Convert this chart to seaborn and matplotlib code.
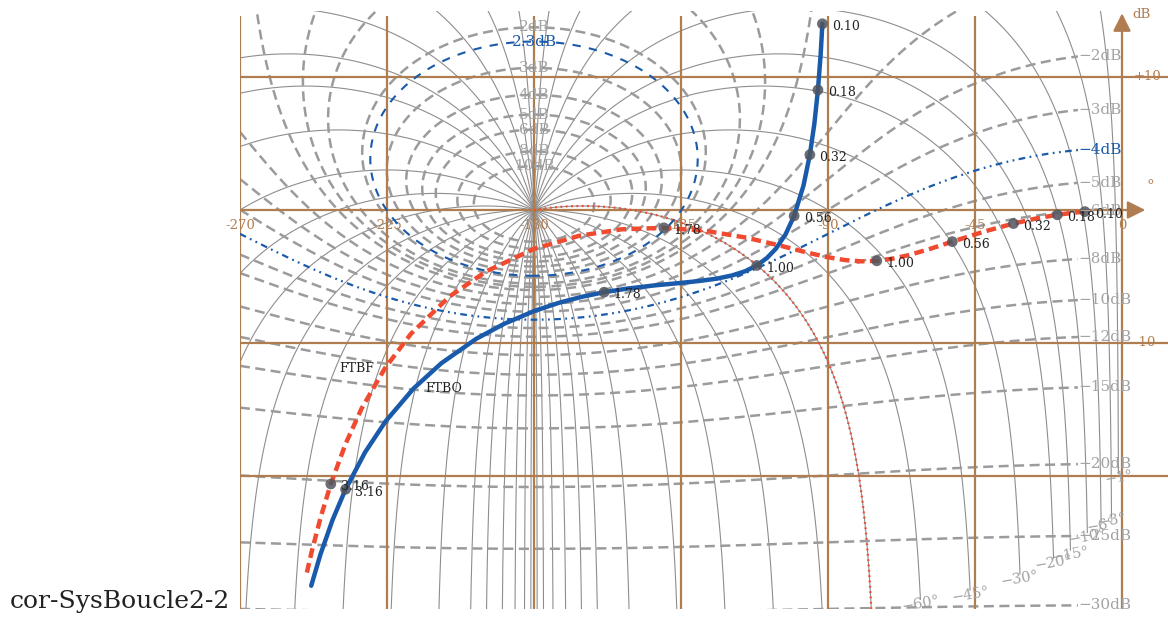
import numpy as np
import matplotlib
matplotlib.use("Agg")
import matplotlib.pyplot as plt
import seaborn as sns

# pulsations (rad/s) at which both loci are sampled
freq = [0.10, 0.13, 0.178, 0.24, 0.316, 0.42, 0.562, 0.68, 0.80, 0.90, 1.00, 1.10, 1.20,
        1.30, 1.40, 1.50, 1.60, 1.70, 1.778, 1.85, 1.92, 2.00, 2.10, 2.20, 2.35, 2.50,
        2.70, 2.90, 3.162, 3.40, 3.70, 4.00]

# open loop (FTBO): phase in degrees, gain in dB
ftbo_phase = [-91.72, -92.24, -93.08, -94.18, -95.55, -97.51, -100.37, -102.99, -105.95,
              -108.70, -111.80, -115.32, -119.36, -124.03, -129.47, -135.81, -143.13,
              -151.45, -158.54, -165.42, -172.25, -180.00, -189.24, -197.65, -208.36,
              -216.87, -225.44, -231.72, -237.68, -241.65, -245.38, -248.20]
ftbo_gain = [14.00, 11.73, 9.03, 6.48, 4.16, 1.83, -0.44, -1.83, -2.91, -3.61, -4.17,
             -4.60, -4.92, -5.16, -5.34, -5.50, -5.67, -5.91, -6.18, -6.53, -6.97, -7.60,
             -8.57, -9.68, -11.52, -13.42, -15.89, -18.22, -21.00, -23.29, -25.90, -28.25]

# closed loop (FTBF): phase in degrees, gain in dB
ftbf_phase = [-11.35, -14.66, -19.80, -26.11, -33.24, -41.92, -51.94, -59.01, -65.38,
              -70.30, -75.07, -79.88, -84.94, -90.53, -97.03, -104.93, -114.95, -127.88,
              -140.26, -153.11, -166.05, -180.00, -194.66, -205.89, -217.71, -225.64,
              -232.78, -237.68, -242.20, -245.21, -248.08, -249.61]
ftbf_gain = [-0.12, -0.20, -0.36, -0.63, -1.02, -1.60, -2.38, -2.94, -3.40, -3.66, -3.82,
             -3.86, -3.76, -3.53, -3.16, -2.66, -2.08, -1.55, -1.34, -1.45, -1.93, -2.92,
             -4.62, -6.51, -9.32, -11.90, -14.93, -17.58, -20.60, -23.02, -25.72, -27.35]

marker_freq = [0.10, 0.178, 0.316, 0.562, 1.00, 1.778, 3.162]
marker_labels = ["0.10", "0.18", "0.32", "0.56", "1.00", "1.78", "3.16"]
marker_index = [freq.index(f) for f in marker_freq]

BROWN = "#b07d50"
BLUE = "#1a5aaa"
RED = "#f04a30"
GREY = "#9b9b9b"
GREY_N = "#8e8e8e"
LGREY = "#a3a3a3"

sns.set_theme(style="white")
plt.rcParams["font.family"] = ["DejaVu Serif"]

fig = plt.figure(figsize=(11.68, 6.17), dpi=100)
ax = fig.add_axes([240 / 1168, 8 / 617, 928 / 1168, 598.5 / 617])
ax.set_xlim(-270, -270 + 928 * 45 / 147)
ax.set_ylim(-30, 15)
ax.set_axis_off()

# iso-phase contours of the closed loop
n_phases = [-1, -3, -6, -10, -15, -20, -30, -45, -60, -75, -90, -105, -120, -135,
            -150, -160, -165, -170, -174, -177, -179]
n_floor = {-1: -19.9, -3: -23.1, -6: -23.5, -10: -24.3, -15: -25.6, -20: -26.2,
           -30: -27.4, -45: -28.6, -60: -29.3}
for phi in n_phases:
    th = np.linspace(phi - 180, phi, 60001)[1:-1]
    g = np.sin(np.radians(th - phi)) / np.sin(np.radians(phi))
    db = 20 * np.log10(g)
    db[db < -40] = np.nan
    if phi in n_floor:
        cut = (th > -180) & (db < n_floor[phi])
        db[cut] = np.nan
        k = np.where((th > -180) & ~np.isnan(db))[0][-1]
        ax.text(th[k], db[k] + 0.45, f"\u2212{abs(phi)}\u00b0", ha="center", va="top",
                rotation=10, color=LGREY, fontsize=10.5, zorder=7)
    ax.plot(th, db, color=GREY_N, lw=0.8, zorder=1)
    if phi == -75:
        sel = th >= -180
        ax.plot(th[sel], db[sel], color=RED, lw=1.6, linestyle=(0, (0.8, 1.6)), zorder=4)

# iso-magnitude contours of the closed loop
TH_END = -13.5
m_pos = [0.5, 1, 2, 2.3, 3, 4, 5, 6, 8, 10]
m_neg = [-1, -2, -3, -4, -5, -6, -8, -10, -12, -15, -20, -25, -30]
for mdb in m_pos:
    M = 10 ** (mdb / 20)
    c = -M**2 / (M**2 - 1)
    r = M / (M**2 - 1)
    psi = np.linspace(0, 2 * np.pi, 3001)
    Gc = c + r * np.exp(1j * psi)
    ph = np.mod(np.degrees(np.angle(Gc)), 360) - 360
    db = 20 * np.log10(np.abs(Gc))
    if mdb == 2.3:
        ax.plot(ph, db, color=BLUE, lw=1.5, linestyle=(0, (4, 4)), zorder=4)
        col = BLUE
    else:
        ax.plot(ph, db, color=GREY, lw=1.8, linestyle=(0, (4, 2.2)), zorder=2)
        col = LGREY
    if mdb >= 2:
        ax.text(-180, 20 * np.log10(M / (M - 1)), f"{mdb:g}dB", ha="center", va="center",
                color=col, fontsize=11, zorder=7)

th0 = np.linspace(-269.5, -90.5, 3001)
ax.plot(th0, 20 * np.log10(-1 / (2 * np.cos(np.radians(th0)))), color=GREY, lw=1.8,
        linestyle=(0, (4, 2.2)), zorder=2)

for mdb in m_neg:
    M = 10 ** (mdb / 20)
    th = np.linspace(-300, TH_END, 3001)
    ct = np.cos(np.radians(th))
    g = (M**2 * ct + np.sqrt(M**4 * ct**2 + M**2 * (1 - M**2))) / (1 - M**2)
    db = 20 * np.log10(g)
    if mdb == -4:
        ax.plot(th, db, color=BLUE, lw=1.6, linestyle=(0, (3, 2, 0.8, 2, 0.8, 2)), zorder=4)
        col = BLUE
    else:
        ax.plot(th, db, color=GREY, lw=1.8, linestyle=(0, (4, 2.2)), zorder=2)
        col = LGREY
    if db[-1] < 14:
        ax.text(TH_END + 0.3, db[-1], f"\u2212{abs(mdb)}dB", ha="left", va="center",
                color=col, fontsize=11, zorder=7)

# brown frame: grid, arrows and graduations
for xv in [-270, -225, -180, -135, -90, -45, 0]:
    ax.plot([xv, xv], [-30, 14.6], color=BROWN, lw=1.6, zorder=3, solid_capstyle="butt")
for yv in [10, -10, -20]:
    ax.plot([-270, 20], [yv, yv], color=BROWN, lw=1.6, zorder=3, solid_capstyle="butt")
ax.plot([-270, 5], [0, 0], color=BROWN, lw=1.6, zorder=3, solid_capstyle="butt")
ax.annotate("", xy=(0, 15.0), xytext=(0, 13.2),
            arrowprops=dict(arrowstyle="-|>,head_length=0.9,head_width=0.45", color=BROWN, lw=1.6),
            annotation_clip=False, zorder=3)
ax.annotate("", xy=(8.0, 0), xytext=(3.5, 0),
            arrowprops=dict(arrowstyle="-|>,head_length=0.9,head_width=0.45", color=BROWN, lw=1.6),
            annotation_clip=False, zorder=3)
for xv in [-270, -225, -180, -135, -90, -45, 0]:
    ax.text(xv, -1.13, f"{xv}", ha="center", va="center", color=BROWN, fontsize=9.5, zorder=3)
ax.text(3.7, 10, "+10", ha="left", va="center", color=BROWN, fontsize=9.5, zorder=3)
ax.text(3.7, -10, "-10", ha="left", va="center", color=BROWN, fontsize=9.5, zorder=3)
ax.text(6.0, 14.7, "dB", ha="center", va="center", color=BROWN, fontsize=9.5, zorder=3)
ax.text(8.8, 1.8, "\u00b0", ha="center", va="center", color=BROWN, fontsize=11, zorder=3)

# Black-Nichols loci of the open and closed loop
sns.lineplot(x=ftbf_phase, y=ftbf_gain, sort=False, estimator=None, ax=ax, color=RED,
             lw=3.2, linestyle=(0, (2.2, 1.2)), zorder=5)
sns.lineplot(x=ftbo_phase, y=ftbo_gain, sort=False, estimator=None, ax=ax, color=BLUE,
             lw=3.2, zorder=5)
for ph_arr, g_arr in [(ftbo_phase, ftbo_gain), (ftbf_phase, ftbf_gain)]:
    mx = [ph_arr[i] for i in marker_index]
    my = [g_arr[i] for i in marker_index]
    sns.scatterplot(x=mx, y=my, ax=ax, s=60, color="#50555e", alpha=0.85,
                    edgecolor="none", zorder=6)
    for lab, xv, yv in zip(marker_labels, mx, my):
        ax.annotate(lab, (xv, yv), xytext=(7, -2), textcoords="offset points",
                    ha="left", va="center", fontsize=9, color="#222222", zorder=7)

ax.text(-234.2, -11.9, "FTBF", ha="center", va="center", fontsize=9, color="#222222", zorder=7)
ax.text(-207.6, -13.4, "FTBO", ha="center", va="center", fontsize=9, color="#222222", zorder=7)

fig.text(10 / 1168, 9 / 617, "cor-SysBoucle2-2", ha="left", va="baseline",
         fontsize=18, color="#222222")

fig.savefig("out.png", dpi=100)
